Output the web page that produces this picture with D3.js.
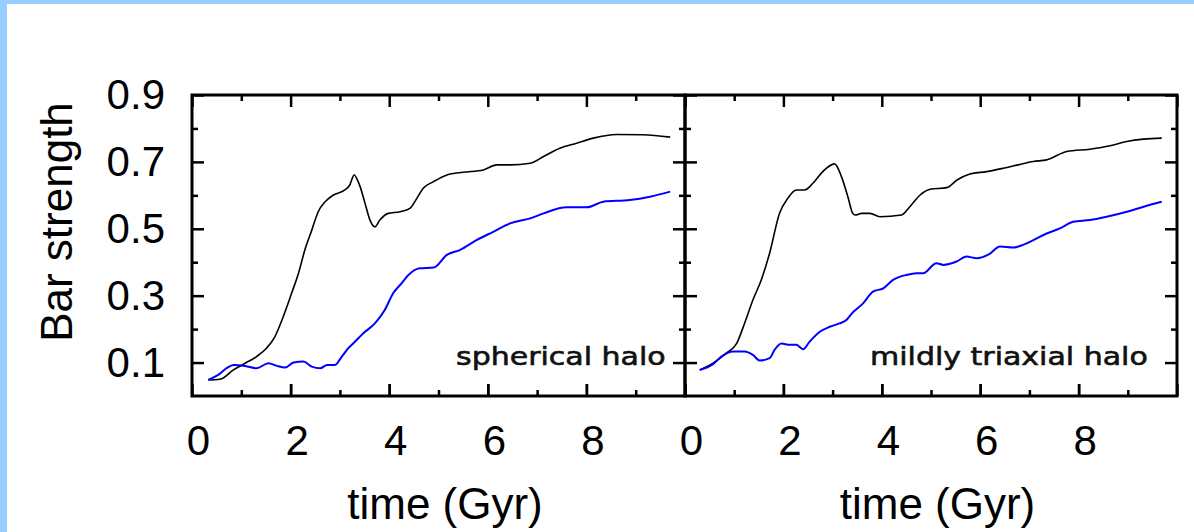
<!DOCTYPE html>
<html><head><meta charset="utf-8">
<script src="https://cdn.jsdelivr.net/npm/d3@7"></script>
<style>body{margin:0;background:#fff}svg{display:block}</style>
</head><body>
<script>
// ---- data ----
const xMajorTicks = [0, 2, 4, 6, 8, 10];
const xMinorTicks = [1, 3, 5, 7, 9];
const xTickLabels = [0, 2, 4, 6, 8];
const yMajorTicks = [0.1, 0.3, 0.5, 0.7, 0.9];
const yMinorTicks = [0.2, 0.4, 0.6, 0.8];
const panelLabels = ["spherical halo", "mildly triaxial halo"];
const xTitle = "time (Gyr)";
const yTitle = "Bar strength";

const sphBlackT = [0.33,0.57,0.84,1.08,1.31,1.51,1.68,1.85,2.02,2.16,2.29,2.43,2.56,2.70,2.87,3.10,3.20,3.29,3.37,3.41,3.51,3.61,3.71,3.81,3.98,4.22,4.42,4.56,4.69,4.90,5.17,5.50,5.91,6.18,6.45,6.86,7.13,7.46,7.80,8.14,8.61,9.15,9.70];
const sphBlackV = [0.048,0.050,0.078,0.098,0.118,0.143,0.177,0.237,0.307,0.367,0.437,0.496,0.551,0.581,0.601,0.616,0.631,0.661,0.641,0.626,0.576,0.526,0.506,0.526,0.546,0.551,0.561,0.591,0.621,0.641,0.661,0.669,0.676,0.691,0.691,0.696,0.716,0.741,0.756,0.771,0.782,0.781,0.774];
const sphBlueT = [0.33,0.53,0.70,0.84,1.08,1.31,1.55,1.72,1.89,2.06,2.26,2.43,2.60,2.74,2.90,3.04,3.17,3.31,3.47,3.71,3.91,4.08,4.25,4.39,4.62,4.90,5.17,5.44,5.77,6.11,6.45,6.86,7.13,7.60,8.01,8.34,8.88,9.29,9.70];
const sphBlueV = [0.048,0.063,0.083,0.093,0.090,0.083,0.098,0.090,0.085,0.100,0.103,0.088,0.083,0.093,0.093,0.118,0.143,0.163,0.187,0.217,0.257,0.307,0.337,0.362,0.382,0.384,0.422,0.437,0.466,0.491,0.516,0.531,0.546,0.564,0.564,0.581,0.586,0.596,0.611];
const triBlackT = [0.30,0.57,0.84,1.05,1.21,1.38,1.55,1.72,1.92,2.09,2.26,2.43,2.60,2.80,3.04,3.18,3.31,3.41,3.46,3.59,3.76,3.96,4.40,4.57,4.78,4.98,5.32,5.53,5.79,6.13,6.47,6.77,7.08,7.35,7.76,8.23,8.64,8.98,9.32,9.69];
const triBlackV = [0.078,0.098,0.128,0.157,0.217,0.287,0.347,0.427,0.546,0.591,0.616,0.616,0.636,0.671,0.694,0.656,0.596,0.546,0.541,0.546,0.546,0.536,0.541,0.566,0.601,0.618,0.623,0.646,0.664,0.671,0.681,0.691,0.701,0.706,0.731,0.738,0.748,0.761,0.768,0.771];
const triBlueT = [0.30,0.57,0.74,0.98,1.21,1.38,1.52,1.72,1.82,1.96,2.13,2.26,2.40,2.53,2.74,2.94,3.14,3.28,3.38,3.62,3.82,4.03,4.23,4.50,4.71,4.84,5.11,5.25,5.52,5.72,5.93,6.20,6.40,6.67,6.87,7.08,7.35,7.62,7.89,8.23,8.57,8.98,9.32,9.69];
const triBlueV = [0.078,0.095,0.118,0.133,0.133,0.123,0.106,0.113,0.138,0.157,0.153,0.153,0.140,0.162,0.192,0.207,0.217,0.227,0.245,0.277,0.312,0.322,0.347,0.362,0.367,0.367,0.397,0.392,0.402,0.417,0.412,0.426,0.447,0.444,0.452,0.466,0.486,0.501,0.521,0.526,0.536,0.551,0.566,0.581];

// ---- layout ----
const W = 1194, H = 532;
const plotTop = 95, plotBottom = 396;
const panelX = [[192, 685], [685, 1177]];
const series = [
  [{t: sphBlackT, v: sphBlackV, c: "#000000", w: 1.6}, {t: sphBlueT, v: sphBlueV, c: "#0000ff", w: 2}],
  [{t: triBlackT, v: triBlackV, c: "#000000", w: 1.6}, {t: triBlueT, v: triBlueV, c: "#0000ff", w: 2}]
];

const svg = d3.select("body").append("svg").attr("width", W).attr("height", H);
svg.append("rect").attr("x",0).attr("y",0).attr("width",W).attr("height",4).attr("fill","#99ccff");
svg.append("rect").attr("x",0).attr("y",0).attr("width",7).attr("height",H).attr("fill","#99ccff");

const y = d3.scaleLinear().domain([0, 0.9]).range([plotBottom, plotTop]);
const tickFont = "Liberation Sans, Arial, sans-serif";

function styleAxis(g) {
  g.select(".domain").remove();
  g.selectAll(".tick line").attr("stroke", "#000").attr("stroke-width", 2.5);
  g.selectAll("text").attr("font-family", tickFont).attr("font-size", 42).attr("fill", "#000");
}

panelX.forEach(([x0, x1], i) => {
  const x = d3.scaleLinear().domain([0, 10]).range([x0, x1]);
  const g = svg.append("g");

  const bx = g.append("g").attr("transform", `translate(0,${plotBottom})`)
    .call(d3.axisBottom(x).tickValues(xTickLabels).tickSize(-12).tickPadding(29).tickFormat(d3.format("d")));
  styleAxis(bx);
  bx.selectAll("text").attr("dx", 6);
  g.append("g").attr("transform", `translate(0,${plotBottom})`)
    .call(d3.axisBottom(x).tickValues(xMajorTicks.slice(1)).tickSize(-12).tickFormat(""))
    .call(styleAxis);
  g.append("g").attr("transform", `translate(0,${plotBottom})`)
    .call(d3.axisBottom(x).tickValues(xMinorTicks).tickSize(-6).tickFormat(""))
    .call(styleAxis);
  g.append("g").attr("transform", `translate(0,${plotTop})`)
    .call(d3.axisTop(x).tickValues(xMajorTicks).tickSize(-12).tickFormat(""))
    .call(styleAxis);
  g.append("g").attr("transform", `translate(0,${plotTop})`)
    .call(d3.axisTop(x).tickValues(xMinorTicks).tickSize(-6).tickFormat(""))
    .call(styleAxis);
  const ly = g.append("g").attr("transform", `translate(${x0},0)`)
    .call(d3.axisLeft(y).tickValues(yMajorTicks).tickSize(-12).tickPadding(27)
      .tickFormat(i === 0 ? d3.format(".1f") : ""));
  styleAxis(ly);
  g.append("g").attr("transform", `translate(${x0},0)`)
    .call(d3.axisLeft(y).tickValues(yMinorTicks).tickSize(-6).tickFormat(""))
    .call(styleAxis);
  g.append("g").attr("transform", `translate(${x1},0)`)
    .call(d3.axisRight(y).tickValues(yMajorTicks).tickSize(-12).tickFormat(""))
    .call(styleAxis);
  g.append("g").attr("transform", `translate(${x1},0)`)
    .call(d3.axisRight(y).tickValues(yMinorTicks).tickSize(-6).tickFormat(""))
    .call(styleAxis);

  const line = d3.line().curve(d3.curveMonotoneX).x(d => x(d[0])).y(d => y(d[1]));
  series[i].forEach(s => {
    g.append("path").datum(s.t.map((t, k) => [t, s.v[k]]))
      .attr("d", line).attr("fill", "none").attr("stroke", s.c).attr("stroke-width", s.w)
      .attr("stroke-linejoin", "round");
  });

  g.append("rect").attr("x", x0).attr("y", plotTop).attr("width", x1 - x0).attr("height", plotBottom - plotTop)
    .attr("fill", "none").attr("stroke", "#000").attr("stroke-width", 3);

  const annX = i === 0 ? 456 : 870;
  g.append("text").attr("transform", `translate(${annX},365) scale(1.2,1)`)
    .attr("font-family", "DejaVu Sans, sans-serif").attr("font-size", 25)
    .attr("fill", "#111").attr("stroke", "#111").attr("stroke-width", 0.6)
    .text(panelLabels[i]);

  g.append("text").attr("x", (x0 + x1) / 2 + 6.5).attr("y", 519)
    .attr("text-anchor", "middle").attr("font-family", tickFont).attr("font-size", 44)
    .text(xTitle);
});

svg.append("text").attr("transform", "translate(72,222) rotate(-90)")
  .attr("text-anchor", "middle").attr("font-family", tickFont).attr("font-size", 44)
  .text(yTitle);
</script>
</body></html>
